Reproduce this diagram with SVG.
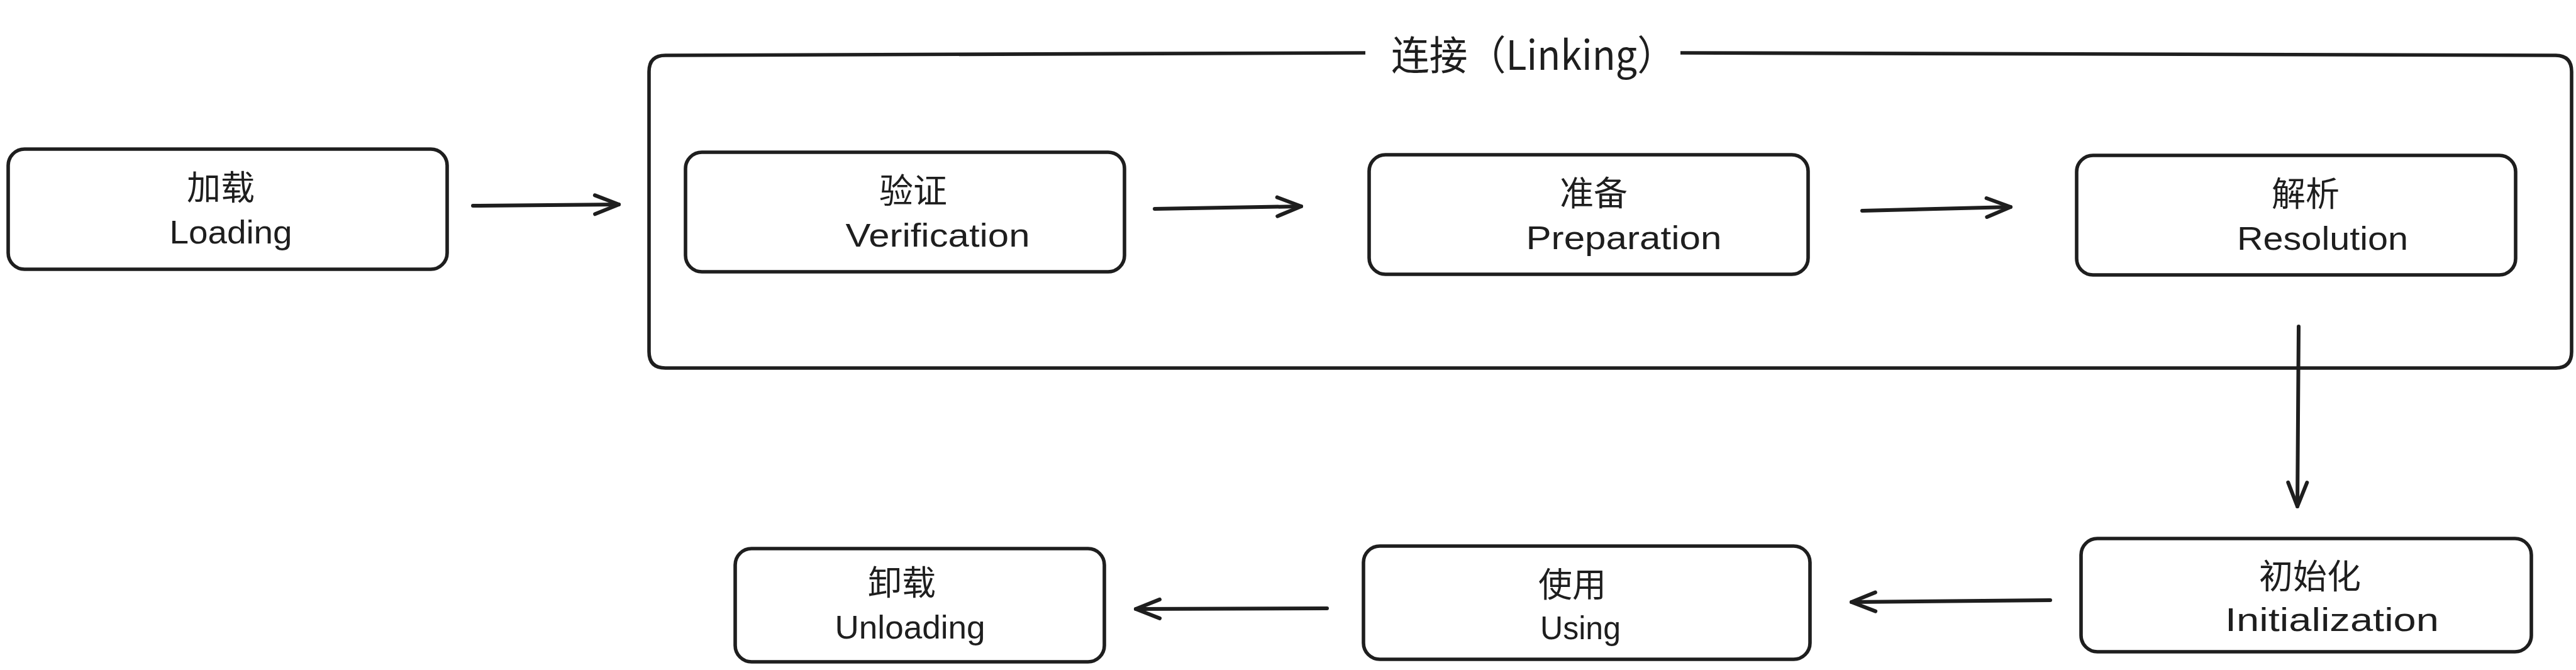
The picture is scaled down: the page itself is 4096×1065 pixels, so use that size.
<svg xmlns="http://www.w3.org/2000/svg" width="4096" height="1065" viewBox="0 0 4096 1065">
<style>
.box{fill:#ffffff;stroke:#1e1e1e;stroke-width:5.6}
.zh{font-family:"Noto Sans CJK SC","Noto Sans",sans-serif;font-size:54px;fill:#1e1e1e;text-anchor:middle}
.en{font-family:"Liberation Sans","Noto Sans",sans-serif;font-size:52px;fill:#1e1e1e;text-anchor:middle}
.title{font-family:"Noto Sans CJK SC","Noto Sans",sans-serif;font-size:64px;fill:#1e1e1e}
.conn{fill:none;stroke:#1e1e1e;stroke-width:6;stroke-linecap:round;stroke-linejoin:round}
</style>
<defs>
<marker id="ah" viewBox="-46 -20 50 40" refX="0" refY="0" markerWidth="50" markerHeight="40" markerUnits="userSpaceOnUse" orient="auto">
<path d="M-38,-15 L0,0 L-38,15" fill="none" stroke="#1e1e1e" stroke-width="6" stroke-linecap="round" stroke-linejoin="round"/>
</marker>
</defs>
<rect width="4096" height="1065" fill="#ffffff"/>

<g id="linking">
<path class="box" fill="none" d="M2171,84 L1058,88 Q1032,88 1032,114 L1032,559 Q1032,585 1058,585 L4063,585 Q4089,585 4089,559 L4089,114 Q4089,88 4063,88 L2672,84"/>
<text class="title" x="2212" y="111" textLength="452" lengthAdjust="spacingAndGlyphs">连接（Linking）</text>
</g>

<g id="loading">
<rect class="box" x="13" y="237" width="698" height="191" rx="26"/>
<text class="zh" x="351" y="318">加载</text>
<text class="en" x="367" y="387" textLength="195" lengthAdjust="spacingAndGlyphs">Loading</text>
</g>

<g id="verification">
<rect class="box" x="1090" y="242" width="698" height="190" rx="26"/>
<text class="zh" x="1452" y="323">验证</text>
<text class="en" x="1491" y="392" textLength="293" lengthAdjust="spacingAndGlyphs">Verification</text>
</g>

<g id="preparation">
<rect class="box" x="2177" y="246" width="698" height="190" rx="26"/>
<text class="zh" x="2534" y="327">准备</text>
<text class="en" x="2582" y="396" textLength="311" lengthAdjust="spacingAndGlyphs">Preparation</text>
</g>

<g id="resolution">
<rect class="box" x="3302" y="247" width="698" height="190" rx="26"/>
<text class="zh" x="3666" y="328">解析</text>
<text class="en" x="3693" y="397" textLength="272" lengthAdjust="spacingAndGlyphs">Resolution</text>
</g>

<g id="initialization">
<rect class="box" x="3309" y="856" width="716" height="180" rx="26"/>
<text class="zh" x="3673" y="936">初始化</text>
<text class="en" x="3708" y="1003" textLength="340" lengthAdjust="spacingAndGlyphs">Initialization</text>
</g>

<g id="using">
<rect class="box" x="2168" y="868" width="710" height="180" rx="26"/>
<text class="zh" x="2500" y="949">使用</text>
<text class="en" x="2513" y="1016" textLength="128" lengthAdjust="spacingAndGlyphs">Using</text>
</g>

<g id="unloading">
<rect class="box" x="1169" y="872" width="587" height="180" rx="26"/>
<text class="zh" x="1434" y="946">卸载</text>
<text class="en" x="1447" y="1015" textLength="239" lengthAdjust="spacingAndGlyphs">Unloading</text>
</g>

<g id="connectors">
<path class="conn" marker-end="url(#ah)" d="M752,327 L984,325"/>
<path class="conn" marker-end="url(#ah)" d="M1836,332 L2069,328"/>
<path class="conn" marker-end="url(#ah)" d="M2961,335 L3197,329"/>
<path class="conn" marker-end="url(#ah)" d="M3655,519 L3653,805"/>
<path class="conn" marker-end="url(#ah)" d="M3260,954 L2944,957"/>
<path class="conn" marker-end="url(#ah)" d="M2110,967 L1806,968"/>
</g>
</svg>
